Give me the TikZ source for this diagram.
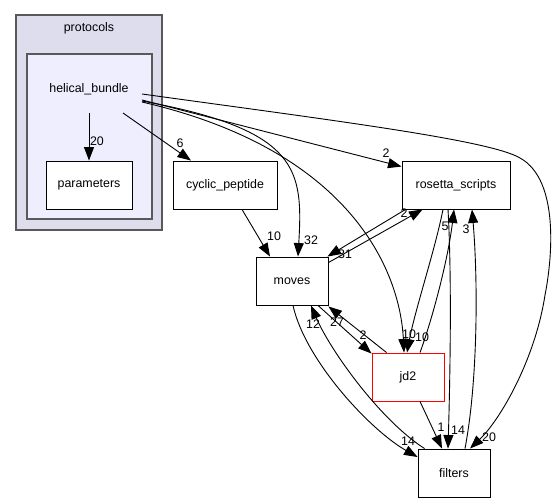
\documentclass[tikz,border=0pt]{standalone}
\usepackage{fontspec}
\setmainfont{Liberation Sans}
\usetikzlibrary{arrows.meta,calc}
\begin{document}
\begin{tikzpicture}[x=1pt,y=-1pt,
  every node/.style={font=\fontsize{12.4}{14}\selectfont, inner sep=0pt},
  box/.style={draw=black, fill=white, line width=0.9pt, minimum height=48pt},
  lbl/.style={},
  edge/.style={line width=0.9pt, -{Triangle[length=13.5pt,width=10pt]}},
  cl/.style={draw=black!65, line width=1.1pt}]
\useasboundingbox (0,0) rectangle (556,503);
% clusters
\path[cl, fill={rgb,255:red,221;green,221;blue,238}] (16,15) rectangle (162,230);
\node (protolbl) at (89,28) {protocols};
\path[cl, fill={rgb,255:red,238;green,238;blue,255}] (27,54) rectangle (152,219);
\node (hb) at (89,89) {helical\_bundle};
% nodes
\node[box, minimum width=86pt] (par) at (89,185) {parameters};
\node[box, minimum width=104pt] (cyc) at (225,185) {cyclic\_peptide};
\node[box, minimum width=108pt] (rs) at (456,185) {rosetta\_scripts};
\node[box, minimum width=72pt] (mv) at (292,281) {moves};
\node[box, minimum width=72pt, draw=red] (jd) at (408,377) {jd2};
\node[box, minimum width=72pt] (fl) at (454,473) {filters};
% edges
\draw[edge] ($(hb)+(0,24)$) -- (par.north);
\node[lbl] (l1) at (97,141) {20};
\draw[edge] ($(hb)+(34,24)$) -- ($(cyc.north)+(-34,0)$);
\node[lbl] (l2) at (180,143) {6};
\draw[edge] ($(hb)+(53,11)$) -- ($(rs.north west)+(0,6)$);
\node[lbl] (l3) at (386,153) {2};
\draw[edge] ($(hb)+(53,12)$) .. controls (300,130) and (303,170) .. ($(mv.north)+(6,0)$);
\node[lbl] (l4) at (311,240) {32};
\draw[edge] ($(hb)+(53,13)$) .. controls (350,150) and (400,270) .. ($(jd.north)+(-4,0)$);
\node[lbl] (l5) at (409,334) {10};
\draw[edge] ($(hb)+(53,5)$) .. controls (330,120) and (490,140) .. (520,158)
  .. controls (560,180) and (552,260) .. (545,295)
  .. controls (535,360) and (500,420) .. ($(fl.north)+(16,0)$);
\node[lbl] (l6) at (489,437) {20};
\draw[edge] ($(cyc.south)+(17,0)$) -- ($(mv.north)+(-22,0)$);
\node[lbl] (l7) at (274,236) {10};
\draw[edge] ($(mv.north east)+(0,6)$) -- ($(rs.south west)+(21,0)$);
\node[lbl] (l8) at (404,213) {2};
\draw[edge] ($(rs.south west)+(4,0)$) -- ($(mv.north east)+(-1,0)$);
\node[lbl] (l9) at (345,254) {31};
\draw[edge] ($(rs.south)+(-13,0)$) .. controls (435,250) and (415,310) .. ($(jd.north)+(-1,0)$);
\node[lbl] (l10) at (445,226) {5};
\draw[edge] ($(jd.north)+(12,0)$) .. controls (432,320) and (448,260) .. ($(rs.south)+(-2,0)$);
\node[lbl] (l11) at (422,337) {10};
\draw[edge] ($(rs.south)+(-8,0)$) .. controls (452,280) and (450,380) .. ($(fl.north)+(-6,0)$);
\node[lbl] (l12) at (458,430) {14};
\draw[edge] ($(fl.north)+(11,0)$) .. controls (478,380) and (478,280) .. ($(rs.south)+(16,0)$);
\node[lbl] (l13) at (466,229) {3};
\draw[edge] ($(mv.south)+(1,0)$) .. controls (305,360) and (370,430) .. ($(fl.west)+(0,-16)$);
\node[lbl] (l14) at (408,441) {14};
\draw[edge] ($(fl.north west)+(7,0)$) .. controls (380,420) and (330,350) .. ($(mv.south)+(19,0)$);
\node[lbl] (l15) at (313,324) {12};
\draw[edge] ($(mv.south)+(26,0)$) -- ($(jd.north west)+(0,1)$);
\node[lbl] (l16) at (363,335) {2};
\draw[edge] ($(jd.north west)+(15,0)$) -- ($(mv.south east)+(0,1)$);
\node[lbl] (l17) at (337,322) {27};
\draw[edge] ($(jd.south)+(12,0)$) -- ($(fl.north)+(-12,0)$);
\node[lbl] (l18) at (441,427) {1};
\end{tikzpicture}
\end{document}
